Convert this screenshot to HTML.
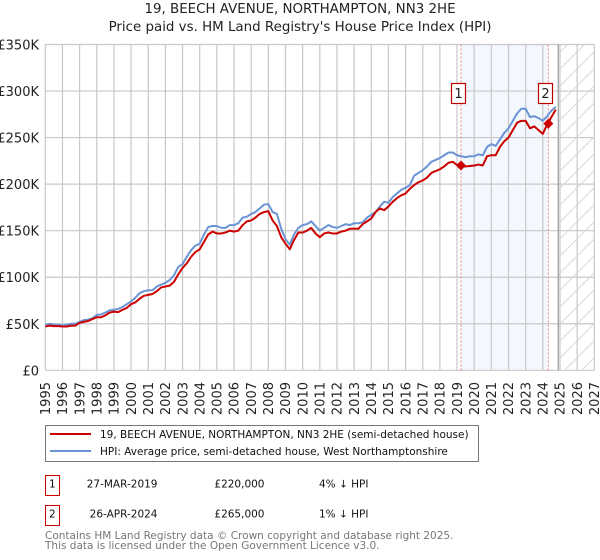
<!DOCTYPE html>
<html>
<head>
<meta charset="utf-8">
<title>19, Beech Avenue price paid vs HPI</title>
<style>
html,body{margin:0;padding:0;background:#fff;width:600px;height:560px;overflow:hidden}
svg{display:block;font-family:"DejaVu Sans","Liberation Sans",sans-serif}
</style>
</head>
<body>
<svg id="chart" width="600" height="560" viewBox="0 0 600 560" xmlns="http://www.w3.org/2000/svg">
  <defs>
    <pattern id="hatch" patternUnits="userSpaceOnUse" width="17" height="17">
      <path d="M-2 19 L19 -2 M-2 2 L2 -2 M15 19 L19 15" stroke="#d4d4d4" stroke-width="0.9" fill="none"/>
    </pattern>
  </defs>
  <text x="300" y="13" text-anchor="middle" font-size="13.4" fill="#222">19, BEECH AVENUE, NORTHAMPTON, NN3 2HE</text>
  <text x="300" y="31" text-anchor="middle" font-size="13.4" fill="#222">Price paid vs. HM Land Registry's House Price Index (HPI)</text>
  <g id="plot"></g>

  <g>
    <rect x="45.5" y="425.5" width="433" height="36" fill="#fff" stroke="#777" stroke-width="1"/>
    <line x1="50" x2="91" y1="434" y2="434" stroke="#cc0000" stroke-width="2"/>
    <text x="100" y="438" font-size="10.5" fill="#111">19, BEECH AVENUE, NORTHAMPTON, NN3 2HE (semi-detached house)</text>
    <line x1="50" x2="91" y1="451" y2="451" stroke="#6a94d4" stroke-width="2"/>
    <text x="100" y="455" font-size="10.5" fill="#111">HPI: Average price, semi-detached house, West Northamptonshire</text>
  </g>

  <g font-size="10.5" fill="#111">
    <rect x="45.5" y="475.5" width="14" height="20" fill="#fff" stroke="#cc0000" stroke-width="1"/>
    <text x="52.3" y="487.5" text-anchor="middle">1</text>
    <text x="157.5" y="487.5" text-anchor="end">27-MAR-2019</text>
    <text x="264.5" y="487.5" text-anchor="end">£220,000</text>
    <text x="319" y="487.5">4% ↓ HPI</text>
    <rect x="45.5" y="505.5" width="14" height="20" fill="#fff" stroke="#cc0000" stroke-width="1"/>
    <text x="52.3" y="517.5" text-anchor="middle">2</text>
    <text x="157.5" y="517.5" text-anchor="end">26-APR-2024</text>
    <text x="264.5" y="517.5" text-anchor="end">£265,000</text>
    <text x="319" y="517.5">1% ↓ HPI</text>
  </g>

  <text x="45" y="539" font-size="10.5" fill="#777">Contains HM Land Registry data © Crown copyright and database right 2025.</text>
  <text x="45" y="549" font-size="10.5" fill="#777">This data is licensed under the Open Government Licence v3.0.</text>
</svg>

<script>
const xTickYears = [1995,1996,1997,1998,1999,2000,2001,2002,2003,2004,2005,2006,2007,2008,2009,2010,2011,2012,2013,2014,2015,2016,2017,2018,2019,2020,2021,2022,2023,2024,2025,2026,2027];
const yTickValues = [0,50,100,150,200,250,300,350];
const yTickLabels = ['£0','£50K','£100K','£150K','£200K','£250K','£300K','£350K'];
const seriesStartYear = 1995;
const samplesPerYear = 4;
// Quarterly values in £ thousands.
const pricePaidValues = [
47,48,47.5,47.5, 47,47,48,48, 51,52,53,55, 57,57,59,62, 63,62.5,65,67,
71,73,77,80, 81,82,85,89, 90,91,95,103, 110,115,122,127, 130,138,146,149,
147,147,148,150, 149,150,156,160, 161,164,168,170, 171,161,155,143, 136,130,140,148,
148,150,153,147, 143,147,148,147, 147,149,150,152, 152,152,157,160, 163,170,174,172,
176,181,185,188, 190,195,199,202, 204,207,212,214, 216,219,223,224, 220.5,219,219,219.5,
220,221,220,230, 231,231,240,246, 250,258,266,268, 268,260,262,258, 254,264,272,280
];
const hpiValues = [
49,50,49,49, 48,49,50,50, 52,54,54.5,56, 59.5,60,62,64.5, 65,66,68,71,
74,78,83,85, 86,86,90,92, 94,97,102,111, 114,122,129,134, 136,146,154,155,
155,153,153,156, 156,158,164,165, 168,170,174,178, 178.5,170,168,152, 141,135,146,153,
156,157,160,155, 150,153,156,154, 153,155,157,156, 158,158,159,164, 167,170,176,181,
180,186,190,194, 196,199,209,212, 215,219,224,226, 228,231,234,234, 231,230,229,230,
230,232,231,240, 243,241,248,255, 260,268,276,281, 281,272,273,271, 268,273,279,283
];
const saleYears = [2019.23, 2024.32];
const salePrices = [220, 265];
const saleLabels = ['1', '2'];
const forecastStartYear = 2024.9;

const NS = 'http://www.w3.org/2000/svg';
const plot = document.getElementById('plot');
const X0 = 45.3, X1 = 594.3, Y0 = 370.3, Y1 = 44.5;
const yearMin = xTickYears[0], yearMax = xTickYears[xTickYears.length - 1];
const valueMax = yTickValues[yTickValues.length - 1];
function xScale(year) { return X0 + (year - yearMin) / (yearMax - yearMin) * (X1 - X0); }
function yScale(value) { return Y0 - value / valueMax * (Y0 - Y1); }
function make(tag, attrs, text) {
  const el = document.createElementNS(NS, tag);
  for (const key in attrs) el.setAttribute(key, attrs[key]);
  if (text !== undefined) el.textContent = text;
  plot.appendChild(el);
  return el;
}
function seriesPoints(values) {
  return values.map(function (v, i) {
    return xScale(seriesStartYear + i / samplesPerYear).toFixed(2) + ',' + yScale(v).toFixed(2);
  }).join(' ');
}

// Shaded span between the two sales
const span = make('rect', {x: xScale(saleYears[0]), y: Y1, width: xScale(saleYears[1]) - xScale(saleYears[0]), height: Y0 - Y1, fill: '#f3f7fe'});



// Grid
yTickValues.forEach(function (v, i) {
  const grid = make('line', {x1: X0, x2: X1, y1: yScale(v), y2: yScale(v), stroke: '#c8c8c8', 'stroke-width': 1.2});
  
  
  const label = make('text', {x: 39, y: yScale(v) + 5, 'text-anchor': 'end', 'font-size': 13, fill: '#222'}, yTickLabels[i]);
  
  
});
xTickYears.forEach(function (year) {
  const grid = make('line', {x1: xScale(year), x2: xScale(year), y1: Y1, y2: Y0, stroke: '#c8c8c8', 'stroke-width': 1.2});
  
  
  const lx = xScale(year) + 4.7;
  const label = make('text', {x: lx, y: 382, 'text-anchor': 'end', 'font-size': 13, fill: '#222', transform: 'rotate(-90 ' + lx + ' 382)'}, String(year));
  
  
});

// Forecast hatch
const hatch = make('rect', {x: xScale(forecastStartYear), y: Y1, width: X1 - xScale(forecastStartYear), height: Y0 - Y1, fill: 'url(#hatch)'});


const edge = make('line', {x1: xScale(forecastStartYear), x2: xScale(forecastStartYear), y1: Y1, y2: Y0, stroke: '#999', 'stroke-width': 1.2});



// Sale markers' dotted lines
saleYears.forEach(function (year) {
  const dash = make('line', {x1: xScale(year), x2: xScale(year), y1: Y1, y2: Y0, stroke: '#ee7f85', 'stroke-width': 1, 'stroke-dasharray': '2 2'});
  
  
});

// Series
const hpiLine = make('polyline', {points: seriesPoints(hpiValues), fill: 'none', stroke: '#6a94d4', 'stroke-width': 2, 'stroke-linejoin': 'round'});


const priceLine = make('polyline', {points: seriesPoints(pricePaidValues), fill: 'none', stroke: '#cc0000', 'stroke-width': 2, 'stroke-linejoin': 'round'});



// Sale points and numbered badges
saleYears.forEach(function (year, i) {
  const cx = xScale(year), cy = yScale(salePrices[i]);
  const d = 5;
  const marker = make('polygon', {points: [cx, cy - d, cx + d, cy, cx, cy + d, cx - d, cy].join(','), fill: '#cc0000'});
  
  
  const badge = make('rect', {x: Math.round(cx) - 9.5, y: 83.5, width: 14, height: 20, fill: '#fff', stroke: '#bb0000', 'stroke-width': 1.2});
  
  
  const num = make('text', {x: Math.round(cx) - 2.5, y: 98, 'text-anchor': 'middle', 'font-size': 13, fill: '#222'}, saleLabels[i]);
  
  
});
</script>
</body>
</html>
